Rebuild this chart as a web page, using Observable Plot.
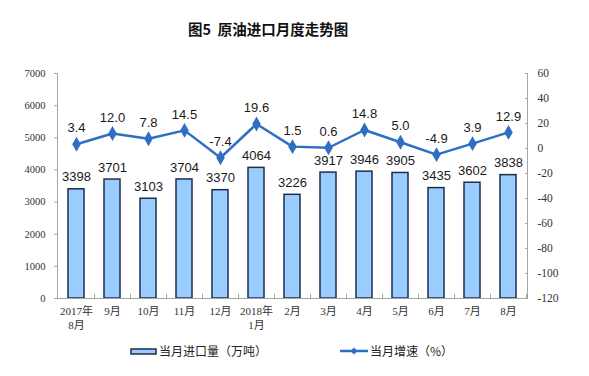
<!DOCTYPE html>
<html><head><meta charset="utf-8">
<script src="https://cdn.jsdelivr.net/npm/d3@7"></script>
<script src="https://cdn.jsdelivr.net/npm/@observablehq/plot@0.6"></script>
<style>
body{margin:0;background:#fff;width:589px;height:376px;overflow:hidden;font-family:"Noto Sans CJK SC",sans-serif;}
#title{height:44px;box-sizing:border-box;padding-top:21px;padding-left:188px;font-size:14.5px;font-weight:bold;line-height:16px;color:#111;white-space:pre;}
#legend{position:relative;height:42px;font-size:12px;color:#222;}
.lg{position:absolute;top:8px;display:flex;align-items:center;white-space:nowrap;}
</style></head><body>
<div id="title">图5  原油进口月度走势图</div>
<div id="chart"></div>
<div id="legend">
  <div class="lg" style="left:130px"><svg width="27" height="10"><rect x="1" y="3" width="25" height="5" fill="#99ccff" stroke="#1f2d4d" stroke-width="1.5"/></svg><span style="margin-left:2px">当月进口量（万吨）</span></div>
  <div class="lg" style="left:340px"><svg width="28" height="10"><line x1="0" y1="5" x2="28" y2="5" stroke="#2e6fc4" stroke-width="2.5"/><path d="M14,1.5L17.5,5L14,8.5L10.5,5Z" fill="#2e6fc4"/></svg><span style="margin-left:2px">当月增速（%）</span></div>
</div>
<script>
const months = ["2017年\n8月","9月","10月","11月","12月","2018年\n1月","2月","3月","4月","5月","6月","7月","8月"];
const imports = [3398,3701,3103,3704,3370,4064,3226,3917,3946,3905,3435,3602,3838];
const growth = [3.4,12.0,7.8,14.5,-7.4,19.6,1.5,0.6,14.8,5.0,-4.9,3.9,12.9];
const leftTicks = [0,1000,2000,3000,4000,5000,6000,7000];
const rightTicks = [-120,-100,-80,-60,-40,-20,0,20,40,60];

const leftMax = 7000, rMin = -120, rMax = 60;
const toLeft = g => (g - rMin) / (rMax - rMin) * leftMax;
const data = months.map((m, i) => ({m, v: imports[i], g: growth[i], gy: toLeft(growth[i])}));

const barColor = "#99ccff", barStroke = "#1f2d4d", lineColor = "#2e6fc4", axisColor = "#a6a6a6";
const serif = "'Liberation Serif','Noto Sans CJK SC',serif";
const sans = "'Liberation Sans',Arial,sans-serif";

const chart = Plot.plot({
  width: 589, height: 290,
  marginTop: 29, marginBottom: 36, marginLeft: 57, marginRight: 62,
  style: {background: "transparent", overflow: "visible"},
  x: {domain: months, paddingInner: 0.56, paddingOuter: 0.28, label: null},
  y: {domain: [0, leftMax], label: null},
  marks: [
    Plot.barY(data, {x: "m", y: "v", fill: barColor, stroke: barStroke, strokeWidth: 1.5}),
    Plot.ruleY([0], {stroke: axisColor, strokeWidth: 1}),
    Plot.frame({anchor: "left", stroke: axisColor}),
    Plot.frame({anchor: "right", stroke: axisColor}),
    Plot.ruleX(data, {x: "m", dx: 18, y1: d => 0, y2: d => 0, insetTop: -4, stroke: axisColor}),
    Plot.axisY({ticks: leftTicks, tickSize: 3, tickPadding: 9, stroke: axisColor, fill: "#333", fontFamily: serif, fontSize: 10.5, tickFormat: d => String(d)}),
    Plot.axisY({anchor: "right", ticks: rightTicks.map(toLeft), tickSize: -3, tickPadding: 13, stroke: axisColor, fill: "#333", fontFamily: serif, fontSize: 11.5, tickFormat: d => String(Math.round(d / leftMax * (rMax - rMin) + rMin))}),
    Plot.axisX({tickSize: 0, tickPadding: 6, fill: "#333", fontFamily: serif, fontSize: 11, lineHeight: 1.3}),
    Plot.text(data, {x: "m", y: "v", text: d => String(d.v), dy: -12, fontFamily: sans, fontSize: 13, fill: "#1a1a1a"}),
    Plot.lineY(data, {x: "m", y: "gy", stroke: lineColor, strokeWidth: 2.5}),
    Plot.dot(data, {x: "m", y: "gy", symbol: "diamond", r: 4.5, fill: lineColor}),
    Plot.text(data, {x: "m", y: "gy", text: d => d.g.toFixed(1), dy: -16, fontFamily: sans, fontSize: 13, fill: "#1a1a1a"})
  ]
});
document.getElementById("chart").appendChild(chart);
</script>
</body></html>
